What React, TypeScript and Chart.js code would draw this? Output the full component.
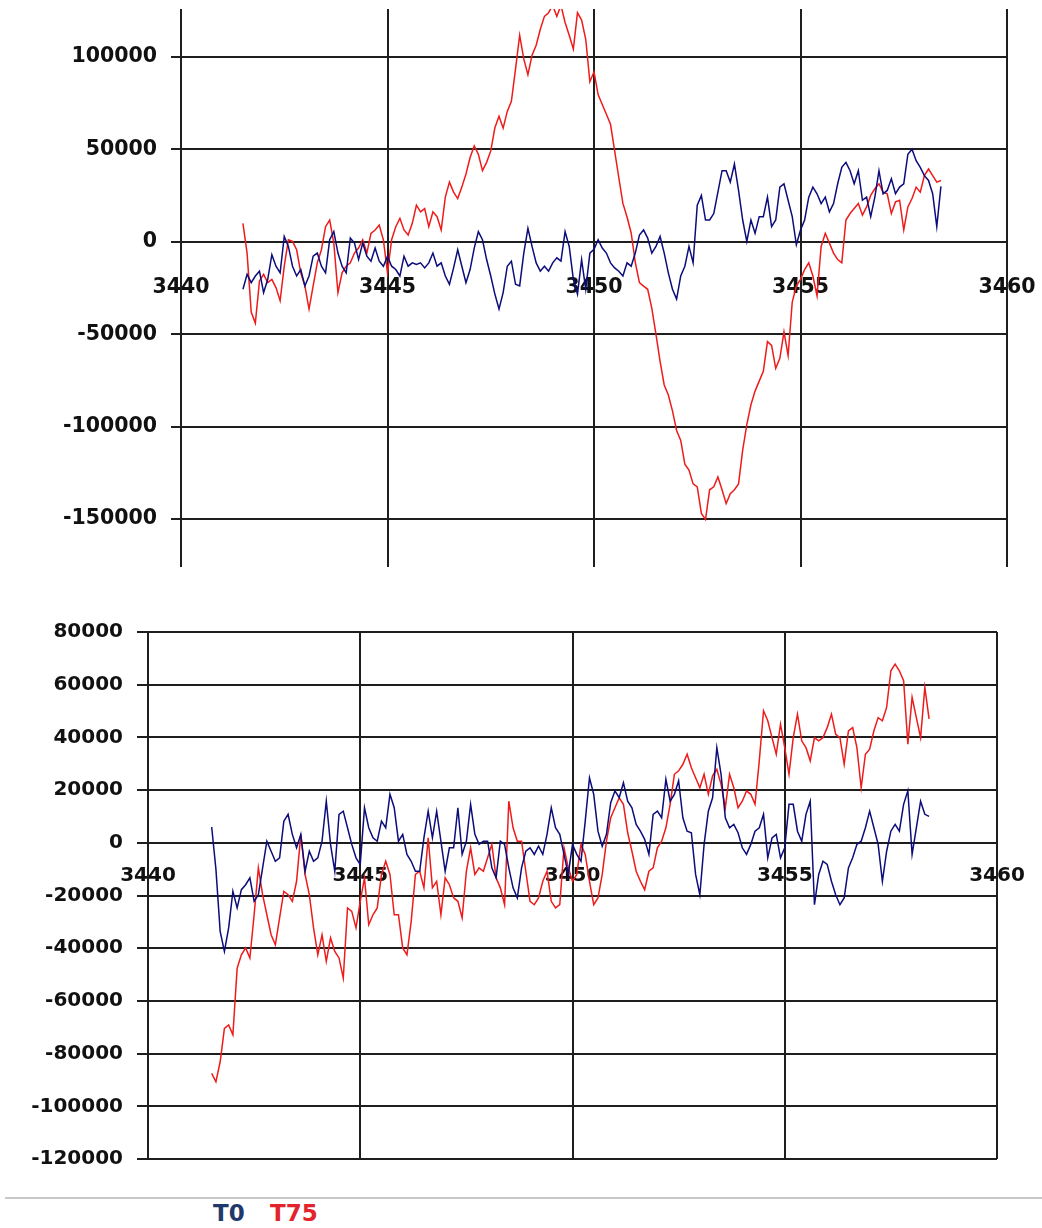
import React, { useEffect, useRef } from 'react';
import { Chart, registerables } from 'chart.js';

Chart.register(...registerables);

// Sample positions along the x axis (shared by both panels)
const xValues = [
  3441.5, 3441.6, 3441.7, 3441.8, 3441.9,
  3442.0, 3442.1, 3442.2, 3442.3, 3442.4, 3442.5, 3442.6, 3442.7, 3442.8, 3442.9,
  3443.0, 3443.1, 3443.2, 3443.3, 3443.4, 3443.5, 3443.6, 3443.7, 3443.8, 3443.9,
  3444.0, 3444.1, 3444.2, 3444.3, 3444.4, 3444.5, 3444.6, 3444.7, 3444.8, 3444.9,
  3445.0, 3445.1, 3445.2, 3445.3, 3445.4, 3445.5, 3445.6, 3445.7, 3445.8, 3445.9,
  3446.0, 3446.1, 3446.2, 3446.3, 3446.4, 3446.5, 3446.6, 3446.7, 3446.8, 3446.9,
  3447.0, 3447.1, 3447.2, 3447.3, 3447.4, 3447.5, 3447.6, 3447.7, 3447.8, 3447.9,
  3448.0, 3448.1, 3448.2, 3448.3, 3448.4, 3448.5, 3448.6, 3448.7, 3448.8, 3448.9,
  3449.0, 3449.1, 3449.2, 3449.3, 3449.4, 3449.5, 3449.6, 3449.7, 3449.8, 3449.9,
  3450.0, 3450.1, 3450.2, 3450.3, 3450.4, 3450.5, 3450.6, 3450.7, 3450.8, 3450.9,
  3451.0, 3451.1, 3451.2, 3451.3, 3451.4, 3451.5, 3451.6, 3451.7, 3451.8, 3451.9,
  3452.0, 3452.1, 3452.2, 3452.3, 3452.4, 3452.5, 3452.6, 3452.7, 3452.8, 3452.9,
  3453.0, 3453.1, 3453.2, 3453.3, 3453.4, 3453.5, 3453.6, 3453.7, 3453.8, 3453.9,
  3454.0, 3454.1, 3454.2, 3454.3, 3454.4, 3454.5, 3454.6, 3454.7, 3454.8, 3454.9,
  3455.0, 3455.1, 3455.2, 3455.3, 3455.4, 3455.5, 3455.6, 3455.7, 3455.8, 3455.9,
  3456.0, 3456.1, 3456.2, 3456.3, 3456.4, 3456.5, 3456.6, 3456.7, 3456.8, 3456.9,
  3457.0, 3457.1, 3457.2, 3457.3, 3457.4, 3457.5, 3457.6, 3457.7, 3457.8, 3457.9,
  3458.0, 3458.1, 3458.2, 3458.3, 3458.4,
];

// Upper panel
const topT0 = [
  -25700, -17600, -22100, -18500, -15900, -27500, -20300, -7000, -13200, -16800,
  2900, -2500, -13200, -18500, -15000, -23900, -18500, -7800, -6100, -13200,
  -16800, 1100, 5500, -6100, -13200, -16800, 2000, -700, -9600, -700,
  -7800, -10500, -3400, -10500, -13200, -7800, -13200, -15000, -18500, -7800,
  -13200, -11400, -12300, -11400, -14100, -11400, -6100, -13200, -11400, -18500,
  -23000, -14100, -4300, -13200, -22100, -15000, -3400, 5500, 1100, -9600,
  -18500, -28300, -36400, -27500, -13200, -10500, -23000, -23900, -6100, 7300,
  -2500, -11400, -15900, -13200, -15900, -11400, -8700, -10500, 5500, -2500,
  -20300, -28300, -9600, -25700, -6100, -4000, 1100, -3400, -6100, -11400,
  -14100, -15900, -18500, -11400, -13200, -6100, 3700, 6400, 2000, -6100,
  -2500, 2900, -6100, -16800, -25700, -31000, -18500, -13200, -2500, -11400,
  19800, 25100, 11800, 11800, 15300, 26900, 38500, 38500, 32300, 42100,
  27800, 11800, 200, 11800, 4600, 13600, 13600, 24200, 8200, 11800,
  29600, 31400, 22500, 13600, -1600, 6400, 11800, 24200, 29600, 26000,
  20700, 24200, 16200, 20700, 31400, 40300, 43000, 38500, 31400, 38500,
  22500, 24200, 13600, 24200, 38500, 26000, 27800, 34100, 26000, 29600,
  31400, 47400, 50100, 43900, 40300, 35800, 33200, 26000, 8200, 30000,
];
const topT75 = [
  10000, -6100, -38000, -44000, -21200, -17600, -22100, -20300, -24800, -31900,
  -13200, 1100, 200, -4300, -16800, -23900, -36400, -23900, -11400, -4300,
  8200, 11800, -700, -27500, -16800, -13200, -11400, -6100, -3400, 1100,
  -6100, 4600, 6400, 9100, 1100, -16800, 1100, 8200, 12700, 6400,
  3700, 10000, 19800, 16200, 18000, 8200, 16200, 13600, 6400, 24200,
  32300, 26900, 23400, 29600, 36700, 45600, 51900, 47400, 38500, 43000,
  49200, 61700, 68000, 61500, 70600, 76000, 93600, 111800, 99000, 90400,
  101000, 106400, 115000, 122000, 124000, 128000, 122000, 128000, 118700, 111800,
  104300, 124000, 120000, 109600, 86600, 92000, 79700, 74300, 69000, 63600,
  49200, 34800, 20800, 13400, 4800, -11200, -22100, -24000, -25700, -36000,
  -50000, -64700, -77500, -82900, -91500, -102100, -107500, -120300, -123500, -131000,
  -132600, -147000, -150300, -134200, -132600, -127300, -134200, -141700, -136300, -134200,
  -131000, -112800, -98900, -88200, -80800, -75400, -70100, -54000, -56100, -68500,
  -63100, -48700, -61500, -32600, -24000, -20300, -15000, -11400, -18500, -29200,
  -2500, 4600, -700, -6100, -9600, -11400, 11800, 15300, 18000, 20700,
  14400, 18900, 25100, 28700, 31400, 26900, 26000, 15300, 21600, 22500,
  6400, 18900, 23400, 29600, 26900, 35800, 39400, 35800, 32300, 33200,
];

// Lower panel
const bottomT0 = [
  6000, -10000, -33600, -41200, -32300, -18400, -24700, -17800, -15900, -13300,
  -22200, -19700, -9500, 600, -3200, -7000, -5700, 8200, 10800, 3200,
  -1900, 3200, -10800, -3200, -7000, -5700, 600, 15800, -600, -10800,
  10800, 12000, 5700, -600, -5700, -8200, 13300, 5700, 1900, 600,
  8200, 5700, 18400, 13300, 600, 3200, -4400, -7000, -10800, -10800,
  1900, 12000, 1900, 12000, 600, -10800, -1900, -1900, 13300, -4400,
  600, 14600, 3200, -600, 600, 600, -9500, -13300, 600, -600,
  -9500, -17100, -20900, -9500, -3200, -1900, -4400, -1300, -4400, 3200,
  13300, 5700, 3200, -4400, -12000, -600, -4400, -7000, 8200, 24700,
  18400, 4400, -1300, 3200, 15200, 19700, 17100, 22800, 15800, 13300,
  7000, 4400, 1300, -4400, 10800, 12000, 9500, 24100, 15800, 18400,
  23500, 9500, 4400, 3800, -12000, -19700, -600, 12000, 17100, 36100,
  26000, 9500, 5700, 7000, 3800, -1900, -4400, -600, 4400, 5700,
  10800, -5700, 1900, 3200, -5700, -1900, 14600, 14600, 4400, 600,
  10800, 15800, -23500, -12000, -7000, -8200, -14600, -19700, -23500, -20900,
  -9500, -5700, -600, 600, 5700, 12000, 5700, -600, -14600, -3200,
  4400, 7000, 4400, 14600, 19700, -4400, 5700, 15800, 10800, 10000,
];
const bottomT75 = [
  -87500, -90700, -83100, -70400, -69100, -72900, -47600, -42500, -39900, -43700,
  -27300, -9500, -19700, -27300, -34900, -38700, -28500, -18400, -19700, -22200,
  -14600, 3200, -12000, -19700, -32300, -42500, -34900, -45000, -36100, -41200,
  -43700, -51400, -24700, -26000, -32300, -22200, -13300, -31100, -27300, -24700,
  -12000, -7000, -12000, -27300, -27300, -39900, -42500, -29800, -12000, -10800,
  -17100, 1900, -17100, -14600, -27300, -13300, -15900, -20900, -22200, -28500,
  -10800, -1900, -12000, -9500, -10800, -5700, -600, -13300, -17100, -23500,
  15800, 5700, 600, 600, -10800, -22200, -23500, -20900, -14600, -10800,
  -22200, -24700, -23500, -1900, -9500, -14600, -12000, -600, -4400, -14600,
  -23500, -20900, -12000, 600, 9500, 13300, 17100, 14600, 3800, -3200,
  -10800, -14600, -17800, -10800, -9500, -1900, 600, 5700, 14600, 26000,
  27300, 29800, 33600, 28500, 24700, 20900, 26000, 18400, 25400, 27900,
  22200, 13300, 26000, 20900, 13300, 15800, 19700, 18400, 14600, 31100,
  50100, 46300, 39900, 33600, 45000, 36100, 26000, 39900, 48800, 38700,
  36100, 31100, 39900, 38700, 39900, 43700, 48800, 41200, 39900, 29800,
  42500, 43700, 36100, 20900, 33600, 35500, 42500, 47500, 46300, 51400,
  65300, 67800, 65300, 61500, 37400, 55200, 47500, 39900, 59000, 47000,
];

const xTicks = [3440, 3445, 3450, 3455, 3460];
const topYTicks = [-150000, -100000, -50000, 0, 50000, 100000];
const bottomYTicks = [-120000, -100000, -80000, -60000, -40000, -20000, 0, 20000, 40000, 60000, 80000];
const seriesNames = ['T0', 'T75'];

const NAVY = '#0c0c7a';
const RED = '#ee1b1b';
const GRID = '#1e1e1e';
const FONT = '"DejaVu Sans", Verdana, sans-serif';

type PanelSpec = {
  t0: number[];
  t75: number[];
  yTicks: number[];
  yMin: number;
  yMax: number;
  axisWidth: number;
  fontSize: number;
  tickLen: number;
  xPad: number;
  padding: { top: number; right: number; bottom: number; left: number };
};

function zeroPad(s: any) {
  s.paddingTop = 0;
  s.paddingBottom = 0;
  s.paddingLeft = 0;
  s.paddingRight = 0;
}

function buildConfig(p: PanelSpec): any {
  const toPoints = (arr: number[]) => xValues.map((x, i) => ({ x, y: arr[i] }));
  return {
    type: 'line',
    data: {
      datasets: [
        {
          label: seriesNames[0],
          data: toPoints(p.t0),
          borderColor: NAVY,
          borderWidth: 1.5,
          pointRadius: 0,
          tension: 0,
          fill: false,
        },
        {
          label: seriesNames[1],
          data: toPoints(p.t75),
          borderColor: RED,
          borderWidth: 1.5,
          pointRadius: 0,
          tension: 0,
          fill: false,
        },
      ],
    },
    options: {
      animation: false,
      responsive: true,
      maintainAspectRatio: false,
      events: [],
      layout: { padding: p.padding },
      plugins: { legend: { display: false }, tooltip: { enabled: false } },
      scales: {
        x: {
          type: 'linear',
          position: { y: 0 },
          min: 3440,
          max: 3460,
          afterBuildTicks: (s: any) => {
            s.ticks = xTicks.map((v) => ({ value: v }));
          },
          afterFit: zeroPad,
          ticks: {
            autoSkip: false,
            maxRotation: 0,
            padding: p.xPad,
            color: '#111',
            font: { family: FONT, size: p.fontSize, weight: 'bold' },
            callback: (v: any) => String(v),
          },
          grid: { color: GRID, lineWidth: 2, drawTicks: false },
          border: { display: true, color: GRID, width: 2 },
        },
        y: {
          type: 'linear',
          min: p.yMin,
          max: p.yMax,
          afterBuildTicks: (s: any) => {
            s.ticks = p.yTicks.map((v) => ({ value: v }));
          },
          afterFit: (s: any) => {
            s.width = p.axisWidth;
            zeroPad(s);
          },
          ticks: {
            autoSkip: false,
            padding: 14,
            color: '#111',
            font: { family: FONT, size: p.fontSize, weight: 'bold' },
            callback: (v: any) => String(v),
          },
          grid: { color: GRID, lineWidth: 2, drawTicks: true, tickLength: p.tickLen },
          border: { display: false },
        },
      },
    },
  };
}

function Panel({ spec, top, height }: { spec: PanelSpec; top: number; height: number }) {
  const ref = useRef<HTMLCanvasElement | null>(null);
  useEffect(() => {
    if (!ref.current) return;
    const chart = new Chart(ref.current, buildConfig(spec));
    return () => chart.destroy();
  }, []);
  return (
    <div style={{ position: 'absolute', left: 0, top, width: 1042, height }}>
      <canvas ref={ref} />
    </div>
  );
}

const topSpec: PanelSpec = {
  t0: topT0,
  t75: topT75,
  yTicks: topYTicks,
  yMin: -176000,
  yMax: 126000,
  axisWidth: 181,
  fontSize: 20.5,
  tickLen: 10,
  xPad: 34,
  padding: { top: 9, right: 35, bottom: 13, left: 0 },
};

const bottomSpec: PanelSpec = {
  t0: bottomT0,
  t75: bottomT75,
  yTicks: bottomYTicks,
  yMin: -120000,
  yMax: 80000,
  axisWidth: 148,
  fontSize: 20,
  tickLen: 11,
  xPad: 21,
  padding: { top: 42, right: 45, bottom: 31, left: 0 },
};

export default function App() {
  return (
    <div
      style={{
        position: 'absolute',
        left: 0,
        top: 0,
        width: 1042,
        height: 1228,
        overflow: 'hidden',
        background: '#ffffff',
      }}
    >
      <Panel spec={topSpec} top={0} height={580} />
      <Panel spec={bottomSpec} top={590} height={600} />
      <div
        style={{
          position: 'absolute',
          left: 5,
          top: 1197,
          width: 1037,
          height: 0,
          borderTop: '2px solid #c8c8c8',
        }}
      />
      <span
        style={{
          position: 'absolute',
          left: 213,
          top: 1202,
          font: `bold 23px ${FONT}`,
          lineHeight: '23px',
          color: '#1f3a6a',
        }}
      >
        {seriesNames[0]}
      </span>
      <span
        style={{
          position: 'absolute',
          left: 270,
          top: 1202,
          font: `bold 23px ${FONT}`,
          lineHeight: '23px',
          color: '#e3232b',
        }}
      >
        {seriesNames[1]}
      </span>
    </div>
  );
}
